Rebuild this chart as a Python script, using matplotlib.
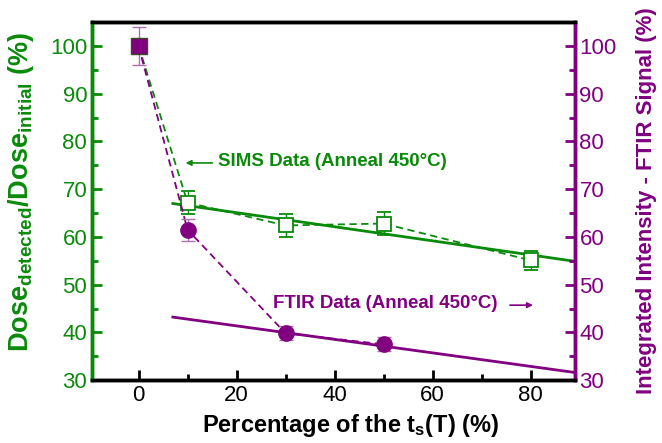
import matplotlib
matplotlib.use("Agg")
import matplotlib.pyplot as plt
from matplotlib.ticker import MultipleLocator

plt.rcParams['font.family'] = ['Liberation Sans', 'DejaVu Sans']
plt.rcParams['mathtext.fontset'] = 'custom'
plt.rcParams['mathtext.rm'] = 'Liberation Sans:bold'
plt.rcParams['mathtext.it'] = 'Liberation Sans:bold'
plt.rcParams['mathtext.bf'] = 'Liberation Sans:bold'

GREEN = '#0a8a0a'
PURPLE = '#800080'

# SIMS data
sims_x = [0, 10, 30, 50, 80]
sims_y = [100, 67.2, 62.4, 62.8, 55.1]
sims_err = [0, 2.4, 2.5, 2.4, 2.0]
sims_fit_x = [7, 89]
sims_fit_y = [67.0, 54.9]

# FTIR data
ftir_x = [0, 10, 30, 50]
ftir_y = [100, 61.5, 39.8, 37.5]
ftir_err = [4.0, 2.3, 1.5, 1.5]
ftir_fit_x = [7, 89]
ftir_fit_y = [43.2, 31.6]

x_ticks = [0, 20, 40, 60, 80]
y_ticks = [30, 40, 50, 60, 70, 80, 90, 100]

fig = plt.figure(figsize=(6.62, 4.43), dpi=100)
ax = fig.add_axes([0.139, 0.142, 0.729, 0.808])
ax2 = ax.twinx()

# SIMS
ax.plot(sims_x, sims_y, ls=(0, (4, 2.5)), color=GREEN, lw=1.3, zorder=2)
ax.errorbar(sims_x[1:], sims_y[1:], yerr=sims_err[1:], fmt='s', ms=10,
            mfc='white', mec=GREEN, mew=1.3, ecolor=GREEN, elinewidth=1,
            capsize=5, capthick=1, zorder=4)
ax.plot(sims_fit_x, sims_fit_y, color=GREEN, lw=2, zorder=3)

# FTIR (same scale on twin axis)
ax2.plot(ftir_x, ftir_y, ls=(0, (4, 2.5)), color=PURPLE, lw=1.3, zorder=2)
ax2.errorbar(ftir_x[1:], ftir_y[1:], yerr=ftir_err[1:], fmt='o', ms=11,
             mfc=PURPLE, mec=PURPLE, ecolor='#b070b0', elinewidth=1,
             capsize=5, capthick=1, zorder=4)
ax2.errorbar(ftir_x[:1], ftir_y[:1], yerr=ftir_err[:1], fmt='s', ms=11,
             mfc=PURPLE, mec='#3a4a20', mew=1, ecolor='#b070b0', elinewidth=1,
             capsize=5, capthick=1, zorder=5)
ax2.plot(ftir_fit_x, ftir_fit_y, color=PURPLE, lw=2, zorder=3)

for a in (ax, ax2):
    a.set_xlim(-9.5, 89)
    a.set_ylim(30, 105)

ax.set_xticks(x_ticks)
ax.xaxis.set_minor_locator(MultipleLocator(10))
ax.set_yticks(y_ticks)
ax.yaxis.set_minor_locator(MultipleLocator(5))
ax2.set_yticks(y_ticks)
ax2.yaxis.set_minor_locator(MultipleLocator(5))

LS = 16
ax.tick_params(axis='x', which='both', direction='in', top=False, colors='black',
               labelsize=LS, width=2)
ax.tick_params(axis='x', which='major', length=7)
ax.tick_params(axis='x', which='minor', length=4)
ax.tick_params(axis='y', which='both', direction='in', colors=GREEN,
               labelsize=LS, width=2)
ax.tick_params(axis='y', which='major', length=7)
ax.tick_params(axis='y', which='minor', length=4)
ax2.tick_params(axis='y', which='both', direction='in', colors=PURPLE,
                labelsize=LS, width=2)
ax2.tick_params(axis='y', which='major', length=7)
ax2.tick_params(axis='y', which='minor', length=4)

for a in (ax, ax2):
    for s in a.spines.values():
        s.set_linewidth(2.5)
    a.spines['top'].set_color('black')
    a.spines['bottom'].set_color('black')
    a.spines['left'].set_color(GREEN)
    a.spines['right'].set_color(PURPLE)

ax.set_xlabel(r'Percentage of the $\mathbf{t_s}$(T) (%)', fontsize=17,
              fontweight='bold')
ax.xaxis.set_label_coords(0.535, -0.09)
ax.set_ylabel(r'$\mathbf{Dose_{detected}/Dose_{initial}}$ (%)', fontsize=19.5,
              fontweight='bold', color=GREEN)
ax.yaxis.set_label_coords(-0.116, 0.525)
ax2.set_ylabel('Integrated Intensity - FTIR Signal (%)', fontsize=16,
               fontweight='bold', color=PURPLE)
ax2.yaxis.set_label_coords(1.128, 0.5)

ax.annotate('', xy=(9.6, 75.5), xytext=(15.1, 75.5),
            arrowprops=dict(arrowstyle='-|>', color=GREEN, lw=1.2,
                            mutation_scale=8, shrinkA=0, shrinkB=0))
ax.text(16.2, 75.7, 'SIMS Data (Anneal 450°C)', color=GREEN, fontsize=13.5,
        fontweight='bold', va='center', ha='left')
ax.text(27.4, 46.1, 'FTIR Data (Anneal 450°C)', color=PURPLE, fontsize=13.5,
        fontweight='bold', va='center', ha='left')
ax.annotate('', xy=(80.5, 45.7), xytext=(75.8, 45.7),
            arrowprops=dict(arrowstyle='-|>', color=PURPLE, lw=1.2,
                            mutation_scale=8, shrinkA=0, shrinkB=0))

fig.savefig('out.png', dpi=100)
